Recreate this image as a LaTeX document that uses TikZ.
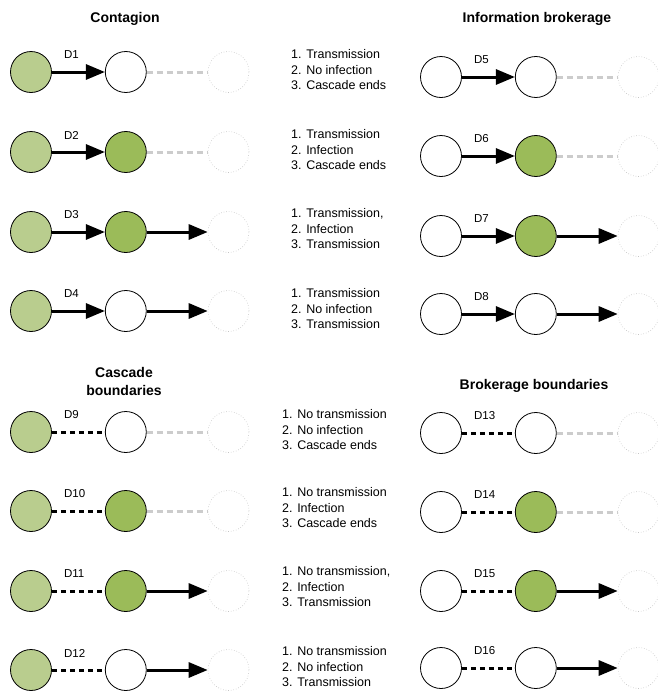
\documentclass[tikz,border=0pt]{standalone}
\usepackage{fontspec}
\setmainfont{Liberation Sans}
\usetikzlibrary{arrows.meta,positioning}
\definecolor{lgreen}{RGB}{185,205,142}
\definecolor{dgreen}{RGB}{155,187,89}
\begin{document}
\begin{tikzpicture}[x=1pt,y=-1pt,
  nd/.style={circle,draw,fill=white,line width=0.8pt,minimum size=41pt,inner sep=0pt},
  seed/.style={nd,fill=lgreen},
  hit/.style={nd,fill=dgreen},
  ghost/.style={circle,draw=black!25,dotted,line width=0.6pt,minimum size=41pt,inner sep=0pt},
  tr/.style={line width=3pt,-{Triangle[length=19pt,width=15pt]}},
  notr/.style={line width=3pt,dash pattern=on 5pt off 4pt},
  ends/.style={line width=3pt,draw=black!20,dash pattern=on 6pt off 4pt},
  lbl/.style={anchor=west,inner sep=0pt,font=\fontsize{11.5}{13}\selectfont},
  lst/.style={anchor=west,inner sep=0pt,align=left,font=\fontsize{12.5}{15.5}\selectfont},
  ttl/.style={align=center,inner sep=0pt,font=\bfseries\fontsize{14}{18}\selectfont}]
\useasboundingbox (0,0) rectangle (657,691);
% titles
\node[ttl] (tc) at (125,19) {Contagion};
\node[ttl] (ti) at (537,19) {Information brokerage};
\node[ttl] (tcb) at (124,381) {Cascade\\boundaries};
\node[ttl] (tbb) at (534,386) {Brokerage boundaries};
% cascades
\foreach \n/\x/\y/\sa/\sb/\eab/\ebc in {
  1/31/72/seed/nd/tr/ends, 2/31/152/seed/hit/tr/ends,
  3/31/232/seed/hit/tr/tr, 4/31/311/seed/nd/tr/tr,
  5/441/77/nd/nd/tr/ends, 6/441/156/nd/hit/tr/ends,
  7/441/236/nd/hit/tr/tr, 8/441/314/nd/nd/tr/tr,
  9/31/432/seed/nd/notr/ends, 10/31/511/seed/hit/notr/ends,
  11/31/591/seed/hit/notr/tr, 12/31/670/seed/nd/notr/tr,
  13/441/433/nd/nd/notr/ends, 14/441/512/nd/hit/notr/ends,
  15/441/591/nd/hit/notr/tr, 16/441/668/nd/nd/notr/tr}{
  \node[\sa] (a\n) at (\x,\y) {};
  \node[\sb,right=53pt of a\n] (b\n) {};
  \node[ghost,right=61pt of b\n] (c\n) {};
  \draw[\eab] (a\n) -- (b\n);
  \draw[\ebc] (b\n) -- (c\n);
  \node[lbl] (d\n) at ([xshift=12pt,yshift=17pt]a\n.east) {D\n};
}
% outcomes
\foreach \m/\x/\y/\txt in {
  1/291/70/{1. Transmission\\2. No infection\\3. Cascade ends},
  2/291/150/{1. Transmission\\2. Infection\\3. Cascade ends},
  3/291/229/{1. Transmission,\\2. Infection\\3. Transmission},
  4/291/309/{1. Transmission\\2. No infection\\3. Transmission},
  5/282/430/{1. No transmission\\2. No infection\\3. Cascade ends},
  6/282/508/{1. No transmission\\2. Infection\\3. Cascade ends},
  7/282/587/{1. No transmission,\\2. Infection\\3. Transmission},
  8/282/667/{1. No transmission\\2. No infection\\3. Transmission}}{
  \node[lst] (o\m) at (\x,\y) {\txt};
}
\end{tikzpicture}
\end{document}
